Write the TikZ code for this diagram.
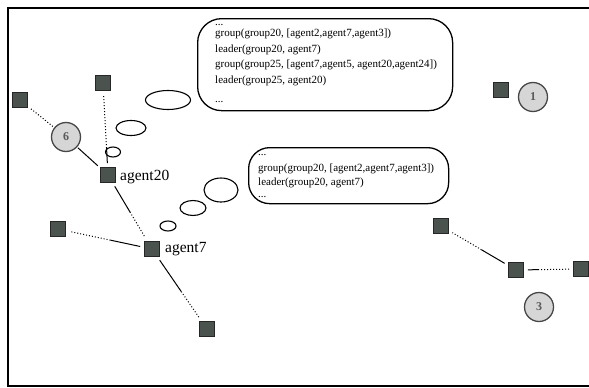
\documentclass[tikz,border=0pt]{standalone}
\usepackage{fontspec}
\setmainfont{Liberation Serif}
\usetikzlibrary{shapes.geometric}
\definecolor{sqfill}{HTML}{4B534F}
\definecolor{grpfill}{HTML}{D6D6D6}
% edge that is solid near its first node and dotted near its second
\newcommand\splitedge[3]{%
  \path (#1) -- (#2) coordinate[pos=#3] (edgemid);
  \draw[solidpart,shorten <=4pt] (#1) -- (edgemid);
  \draw[dotpart,shorten >=4pt] (edgemid) -- (#2);
}
\begin{document}
\begin{tikzpicture}[x=1pt,y=-1pt,
  agent/.style={draw=black!85,fill=sqfill,minimum size=15pt,inner sep=0pt,line width=0.8pt},
  grp/.style={circle,draw=black!72,fill=grpfill,minimum size=29pt,inner sep=0pt,line width=1.3pt,
    font=\fontsize{12}{12}\selectfont\bfseries,text=black!65},
  solidpart/.style={line width=1pt},
  dotpart/.style={line width=1pt,dotted},
  lbl/.style={anchor=west,inner sep=0pt,font=\fontsize{15.5}{16}\selectfont},
  bubblebox/.style={draw,line width=1.3pt,rounded corners=#1,anchor=north west,inner sep=0pt},
  thought/.style={ellipse,draw,line width=1.1pt,inner sep=0pt},
  btext/.style={anchor=base west,inner sep=0pt,font=\fontsize{11}{11}\selectfont},
]
\clip (0,0) rectangle (589,388);
\useasboundingbox (0,0) rectangle (589,388);

% outer frame (right side runs off the page)
\draw[line width=1.5pt] (600,8) -- (8,8) -- (8,386) -- (600,386);

% agents
\node[agent] (s1)  at (20,100) {};
\node[agent] (s2)  at (103,83) {};
\node[agent] (a20) at (108,175) {};
\node[agent] (a7)  at (152,249) {};
\node[agent] (s5)  at (58,229) {};
\node[agent] (s6)  at (207,329) {};
\node[agent] (r0)  at (501,90) {};
\node[agent] (r1)  at (441,226) {};
\node[agent] (r2)  at (516,270) {};
\node[agent] (r3)  at (581,269) {};

\node[lbl] (la20) at (120,177) {agent20};
\node[lbl] (la7)  at (165,249) {agent7};

% groups
\node[grp] (g6) at (66,137) {6};
\node[grp] (g1) at (533,97) {1};
\node[grp] (g3) at (539,307) {3};

% links
\draw[dotpart,shorten <=4pt,shorten >=1pt] (s1) -- (g6);
\draw[solidpart,shorten <=1pt,shorten >=3pt] (g6) -- (a20);
\splitedge{a20}{s2}{0.25}
\splitedge{a20}{a7}{0.5}
\splitedge{a7}{s5}{0.43}
\splitedge{a7}{s6}{0.54}
\splitedge{r2}{r1}{0.45}
\splitedge{r2}{r3}{0.29}

% thought bubble of agent20
\node[thought,minimum width=15pt,minimum height=10pt] (t1) at (113,152) {};
\node[thought,minimum width=30pt,minimum height=15pt] (t2) at (131,128) {};
\node[thought,minimum width=45pt,minimum height=19pt] (t3) at (168,100) {};
\node[bubblebox=24pt,minimum width=255pt,minimum height=92pt] (b1) at (197,18) {};
\node[btext] (b1a) at (215,25.5) {...};
\node[btext] (b1b) at (215,36.5) {group(group20, [agent2,agent7,agent3])};
\node[btext] (b1c) at (215,52) {leader(group20, agent7)};
\node[btext] (b1d) at (215,67.5) {group(group25, [agent7,agent5, agent20,agent24])};
\node[btext] (b1e) at (215,83) {leader(group25, agent20)};
\node[btext] (b1f) at (215,102.3) {...};

% thought bubble of agent7
\node[thought,minimum width=16pt,minimum height=10pt] (u1) at (168,226) {};
\node[thought,minimum width=26pt,minimum height=15pt] (u2) at (193,208) {};
\node[thought,minimum width=34pt,minimum height=24pt] (u3) at (221,190) {};
\node[bubblebox=21pt,minimum width=200pt,minimum height=56pt] (b2) at (248,147) {};
\node[btext] (b2a) at (258,155.7) {...};
\node[btext] (b2b) at (258,171) {group(group20, [agent2,agent7,agent3])};
\node[btext] (b2c) at (258,185) {leader(group20, agent7)};
\node[btext] (b2d) at (258,197.7) {...};
\end{tikzpicture}
\end{document}
